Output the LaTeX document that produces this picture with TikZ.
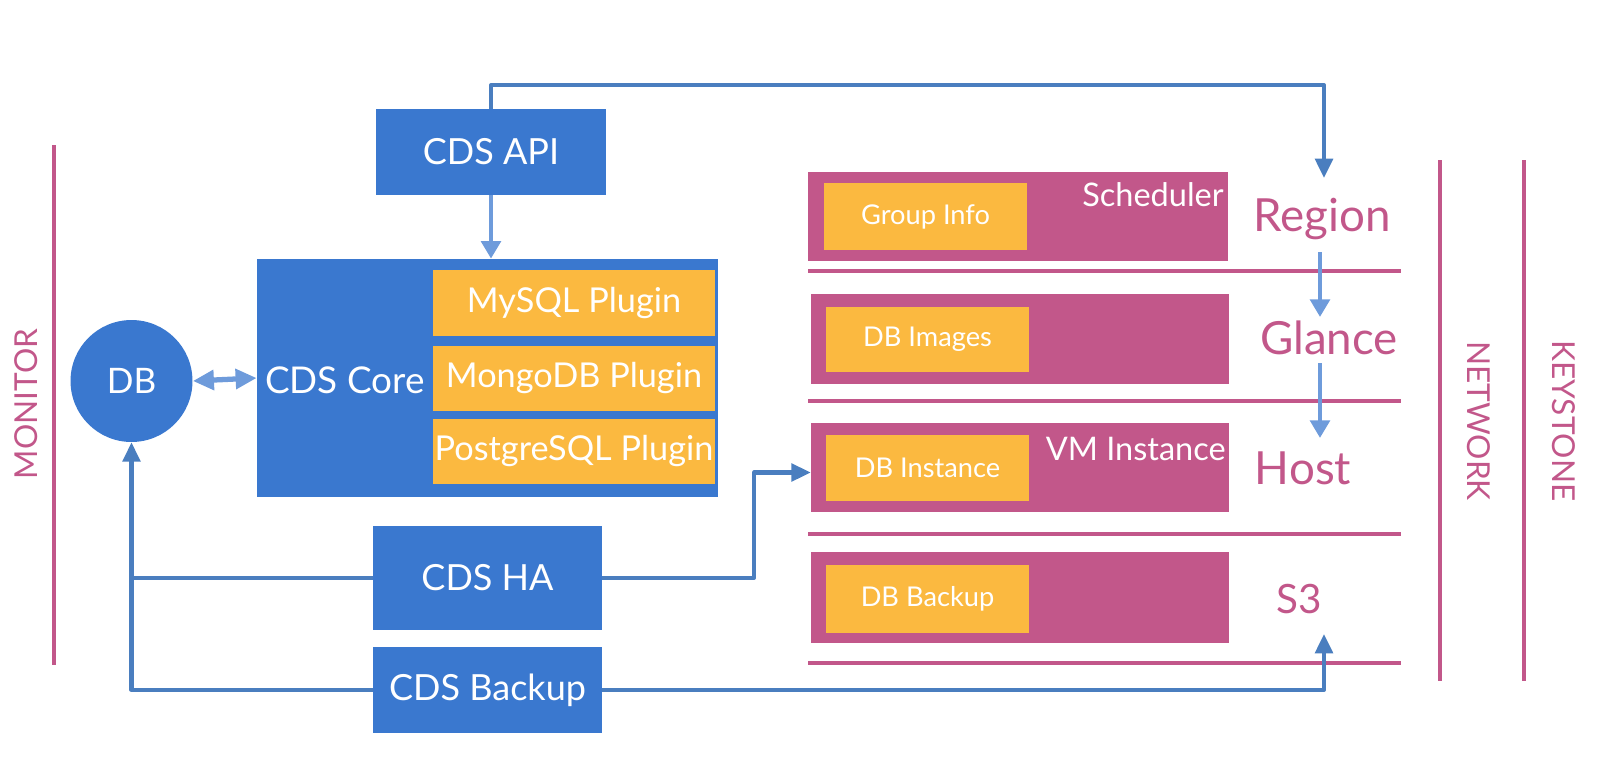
\documentclass[tikz,border=0pt]{standalone}
\usepackage{fontspec}
\setmainfont{Lato}
\usetikzlibrary{arrows.meta,calc}
\definecolor{boxblue}{HTML}{3A78CF}
\definecolor{plugorange}{HTML}{FBB940}
\definecolor{pinkbox}{HTML}{C2578A}
\definecolor{linkblue}{HTML}{4A7EBF}
\definecolor{lightblue}{HTML}{6E9BDB}
\tikzset{
  bluebox/.style={rectangle,fill=boxblue,text=white,inner sep=0pt,font=\fontsize{20.5}{24}\selectfont},
  plugbox/.style={rectangle,fill=plugorange,text=white,inner sep=0pt,minimum width=5.64cm,font=\fontsize{19.5}{23}\selectfont},
  pinkrect/.style={rectangle,fill=pinkbox,inner sep=0pt},
  smallorange/.style={rectangle,fill=plugorange,text=white,inner sep=0pt,minimum width=4.06cm,font=\fontsize{15.5}{18}\selectfont},
  pinklabel/.style={text=pinkbox,inner sep=0pt,font=\fontsize{26}{30}\selectfont},
  sidelabel/.style={text=pinkbox,inner sep=0pt,font=\fontsize{18}{21}\selectfont},
  sidebar/.style={draw=pinkbox,line width=2.3pt},
  sepline/.style={draw=pinkbox,line width=2.6pt},
  link/.style={draw=linkblue,line width=2.3pt,line join=round,-{Triangle[length=11pt,width=10pt]}},
  plainlink/.style={draw=linkblue,line width=2.3pt,line join=round},
  lightlink/.style={draw=lightblue,line width=2.5pt,-{Triangle[length=10pt,width=11pt]}},
  dblink/.style={draw=lightblue,line width=3pt,{Triangle[length=12pt,width=11pt]}-{Triangle[length=12pt,width=11pt]}},
  boxtitle/.style={text=white,inner sep=0pt,font=\fontsize{18.5}{22}\selectfont}
}
\begin{document}
\begin{tikzpicture}[x=0.02cm,y=-0.02cm]
\useasboundingbox (0,0) rectangle (1624,778);

% side bars
\draw[sidebar] (54,145) coordinate (mtop) -- (54,665) coordinate (mbot);
\node[sidelabel,rotate=90] (monitor) at (26,404) {MONITOR};
\draw[sidebar] (1440,160) coordinate (ntop) -- (1440,681) coordinate (nbot);
\node[sidelabel,rotate=-90] (network) at (1479,421) {NETWORK};
\draw[sidebar] (1524,160) coordinate (ktop) -- (1524,681) coordinate (kbot);
\node[sidelabel,rotate=-90] (keystone) at (1564,421) {KEYSTONE};

% left blue column
\node[bluebox,minimum width=4.6cm,minimum height=1.72cm] (api) at (491,152) {CDS API};
\node[bluebox,minimum width=9.22cm,minimum height=4.76cm] (core) at (487.5,378) {};
\node[text=white,inner sep=0pt,font=\fontsize{21}{25}\selectfont] (coretext) at (345,380) {CDS Core};
\node[plugbox,minimum height=1.32cm] (mysql) at (574,303) {MySQL Plugin};
\node[plugbox,minimum height=1.3cm] (mongo) at (574,378.5) {MongoDB Plugin};
\node[plugbox,minimum height=1.3cm] (pg) at (574,451.5) {PostgreSQL Plugin};
\node[circle,fill=boxblue,text=white,inner sep=0pt,minimum size=2.44cm,font=\fontsize{20}{24}\selectfont] (db) at (131.5,381) {DB};
\node[bluebox,minimum width=4.58cm,minimum height=2.08cm] (ha) at (487.5,578) {CDS HA};
\node[bluebox,minimum width=4.58cm,minimum height=1.72cm] (backup) at (487.5,690) {CDS Backup};

% right pink layers
\node[pinkrect,minimum width=8.4cm,minimum height=1.78cm] (sched) at (1018,216.5) {};
\node[smallorange,minimum height=1.34cm] (group) at (925.5,216.5) {Group Info};
\node[boxtitle,anchor=east] (schedtext) at (1224,195) {Scheduler};
\draw[sepline] (808,271) coordinate (s1a) -- (1401,271) coordinate (s1b);

\node[pinkrect,minimum width=8.36cm,minimum height=1.8cm] (glbox) at (1020,339) {};
\node[smallorange,minimum height=1.3cm] (images) at (927.5,339.5) {DB Images};
\draw[sepline] (808,401) coordinate (s2a) -- (1401,401) coordinate (s2b);

\node[pinkrect,minimum width=8.36cm,minimum height=1.78cm] (vm) at (1020,467.5) {};
\node[smallorange,minimum height=1.32cm] (inst) at (927.5,468) {DB Instance};
\node[boxtitle,anchor=east] (vmtext) at (1226,449) {VM Instance};
\draw[sepline] (808,534) coordinate (s3a) -- (1401,534) coordinate (s3b);

\node[pinkrect,minimum width=8.36cm,minimum height=1.82cm] (s3box) at (1020,597.5) {};
\node[smallorange,minimum height=1.36cm] (dbbackup) at (927.5,599) {DB Backup};
\draw[sepline] (808,663) coordinate (s4a) -- (1401,663) coordinate (s4b);

% right labels
\node[pinklabel] (region) at (1322,219) {Region};
\node[pinklabel] (glance) at (1329,338) {Glance};
\node[pinklabel] (host) at (1303,468) {Host};
\node[pinklabel,font=\fontsize{23}{27}\selectfont] (s3) at (1299,599) {S3};

\coordinate (regtop) at (1324,178);
\coordinate (regbot) at (1320,252);
\coordinate (gltop) at (1320,317);
\coordinate (glbot) at (1320,363);
\coordinate (hosttop) at (1320,438);
\coordinate (s3bot) at (1324,634);
\coordinate (hamid) at (754,0);

% connectors
\draw[link] (api.north) |- (1324,85) -- (regtop);
\draw[lightlink] (api.south) -- (api.south |- core.north);
\draw[dblink] (db.east) -- (core.west);
\draw[link] (backup.west) -| (db.south);
\draw[plainlink] (ha.west) -- (ha.west -| db.south);
\draw[link] (ha.east) -- (ha.east -| hamid) |- ([yshift=-0.1cm]vm.west);
\draw[link] (backup.east) -| (s3bot);
\draw[lightlink] (regbot) -- (gltop);
\draw[lightlink] (glbot) -- (hosttop);
\end{tikzpicture}
\end{document}
